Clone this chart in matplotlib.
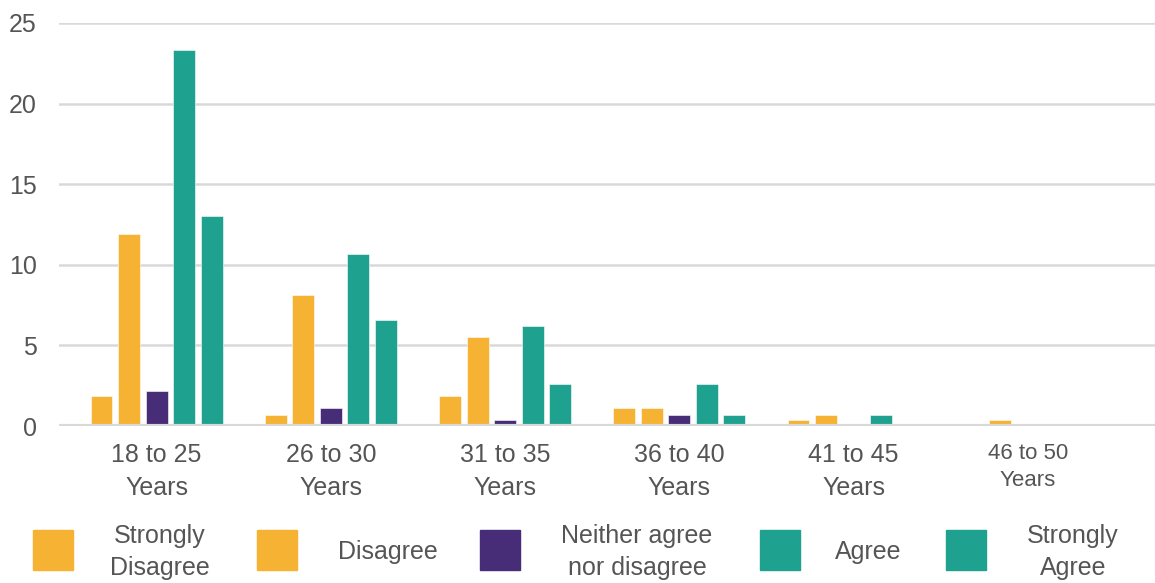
import matplotlib
matplotlib.use("Agg")
import matplotlib.pyplot as plt
from matplotlib.patches import Rectangle
import numpy as np

plt.rcParams["font.family"] = ["Liberation Sans", "DejaVu Sans"]

# Survey responses by age group (percent of respondents)
age_groups = ["18 to 25\nYears", "26 to 30\nYears", "31 to 35\nYears",
              "36 to 40\nYears", "41 to 45\nYears", "46 to 50\nYears"]
responses = ["Strongly\nDisagree", "Disagree", "Neither agree\nnor disagree",
             "Agree", "Strongly\nAgree"]

strongly_disagree = [1.85, 0.7, 1.85, 1.1, 0.35, 0.0]
disagree = [11.9, 8.1, 5.5, 1.1, 0.7, 0.35]
neither = [2.2, 1.1, 0.35, 0.7, 0.0, 0.0]
agree = [23.3, 10.7, 6.2, 2.6, 0.7, 0.0]
strongly_agree = [13.0, 6.6, 2.6, 0.7, 0.0, 0.0]

series = [strongly_disagree, disagree, neither, agree, strongly_agree]
colors = ["#F6B233", "#F6B233", "#472C78", "#1FA190", "#1FA190"]

text_color = "#555555"
grid_color = "#D9D9D9"

W, H = 1155, 583
fig = plt.figure(figsize=(W / 100, H / 100), dpi=100)
ax = fig.add_axes([59 / W, 1 - 426 / H, 1 - 59 / W, (426 - 23) / H])

x = np.arange(len(age_groups))
bar_w = 0.126
pitch = 0.158
for i, (vals, c) in enumerate(zip(series, colors)):
    ax.bar(x + (i - 2) * pitch, vals, width=bar_w, color=c, zorder=3,
           edgecolor="white", linewidth=0.4)

ax.set_ylim(0, 25)
ax.set_xlim(-0.56, 5.73)
ax.set_yticks([0, 5, 10, 15, 20, 25])
for yv in [5, 10, 15, 20, 25]:
    ax.axhline(yv, color=grid_color, linewidth=1.8, zorder=1)
ax.axhline(0, color=grid_color, linewidth=3.0, zorder=4)

for s in ax.spines.values():
    s.set_visible(False)

ax.tick_params(axis="y", length=0, pad=16, labelsize=18, labelcolor=text_color)
ax.tick_params(axis="x", length=0, pad=12, labelsize=18, labelcolor=text_color)
ax.set_xticks(x)
ax.set_xticklabels(age_groups, linespacing=1.5)
last = ax.get_xticklabels()[-1]
last.set_fontsize(16)
last.set_linespacing(1.4)

# Legend drawn as figure-level boxes with centred captions
box_left = [33, 257, 480, 760, 946]
text_center = [160, 388, 637, 868, 1073]
for name, c, bx, tx in zip(responses, colors, box_left, text_center):
    fig.patches.append(Rectangle((bx / W, 1 - 570 / H), 40 / W, 40 / H,
                                 transform=fig.transFigure, color=c))
    fig.text(tx / W, 1 - 552 / H, name, ha="center", va="center",
             fontsize=18, color=text_color, linespacing=1.45,
             multialignment="center")

fig.savefig("out.png", dpi=100)
